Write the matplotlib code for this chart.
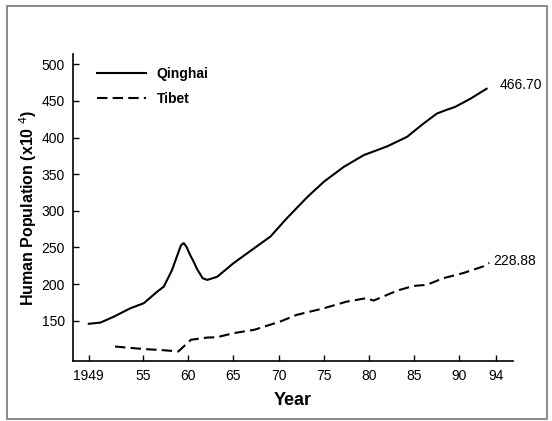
#!/usr/bin/env python3

# Human population of Qinghai and Tibet, 1949-1994.

import matplotlib
matplotlib.use('Agg')
import matplotlib.pyplot as plt
from matplotlib.patches import Rectangle

plt.rcParams['font.family'] = ['Liberation Sans', 'DejaVu Sans']

# values (x10^4 persons)
qinghai_years = [1949.0, 1950.3, 1951.8, 1953.6, 1955.1, 1956.6, 1957.3, 1958.2,
                 1958.9, 1959.2, 1959.5, 1959.8, 1960.2, 1960.5, 1961.0, 1961.6,
                 1962.1, 1963.2, 1965.0, 1967.3, 1969.1, 1970.9, 1973.2, 1975.0,
                 1977.2, 1979.4, 1982.0, 1984.2, 1986.0, 1987.5, 1988.6, 1989.5,
                 1991.2, 1993.0]
qinghai_pop = [145.8, 147.5, 155.7, 167.0, 174.0, 190.0, 196.6, 219.0,
               243.0, 253.0, 256.0, 251.0, 240.0, 233.0, 220.0, 208.0,
               205.7, 210.0, 228.5, 249.0, 265.0, 289.8, 319.2, 339.7,
               360.0, 376.0, 388.0, 401.0, 419.0, 432.8, 438.0, 441.8,
               453.0, 466.7]

tibet_years = [1951.9, 1953.5, 1955.1, 1957.0, 1958.5, 1958.9, 1960.3, 1962.1,
               1963.2, 1965.0, 1967.3, 1970.2, 1972.0, 1975.0, 1977.5, 1979.7,
               1980.5, 1983.1, 1984.9, 1986.4, 1988.2, 1990.4, 1992.6, 1993.3]
tibet_pop = [114.8, 113.0, 111.3, 110.0, 108.5, 108.0, 124.0, 127.0,
             127.5, 133.0, 137.6, 149.0, 158.0, 167.0, 176.0, 180.8,
             177.5, 191.0, 197.5, 199.0, 208.0, 215.0, 224.0, 228.88]

xticks = [1949, 1955, 1960, 1965, 1970, 1975, 1980, 1985, 1990, 1994]
xticklabels = ['1949', '55', '60', '65', '70', '75', '80', '85', '90', '94']
yticks = [150, 200, 250, 300, 350, 400, 450, 500]


def main():
    fig = plt.figure(figsize=(5.52, 4.21), dpi=100)
    ax = fig.add_axes([0.133, 0.1425, 0.796, 0.729])

    ax.plot(qinghai_years, qinghai_pop, color='black', lw=1.5, label='Qinghai')
    ax.plot(tibet_years, tibet_pop, color='black', lw=1.5,
            dashes=(5, 2.5), label='Tibet')

    ax.text(qinghai_years[-1] + 1.4, qinghai_pop[-1] + 5, '466.70',
            fontsize=10, va='center', ha='left')
    ax.text(tibet_years[-1] + 0.4, tibet_pop[-1] + 2, '228.88',
            fontsize=10, va='center', ha='left')

    ax.set_xlim(1947.3, 1995.9)
    ax.set_ylim(95, 514)
    ax.set_xticks(xticks)
    ax.set_xticklabels(xticklabels)
    ax.set_yticks(yticks)
    ax.tick_params(direction='in', length=4, width=1, labelsize=10, pad=6)

    for side in ('top', 'right'):
        ax.spines[side].set_visible(False)
    for side in ('left', 'bottom'):
        ax.spines[side].set_linewidth(1.2)

    ax.set_xlabel('Year', fontsize=13, fontweight='bold', labelpad=6)
    ax.set_ylabel('Human Population (x10 $^{4}$)', fontsize=11.5,
                  fontweight='bold', labelpad=2)

    ax.legend(loc='upper left', bbox_to_anchor=(0.025, 1.0), frameon=False,
              handlelength=3.5, handletextpad=0.8, labelspacing=0.8,
              prop={'weight': 'bold', 'size': 10})

    # thin grey frame around the whole picture
    fig.patches.append(Rectangle((0.0127, 0.005), 0.978, 0.981,
                                 transform=fig.transFigure, fill=False,
                                 edgecolor='#777777', lw=1.2))

    fig.savefig('out.png', dpi=100)


if __name__ == '__main__':
    main()
